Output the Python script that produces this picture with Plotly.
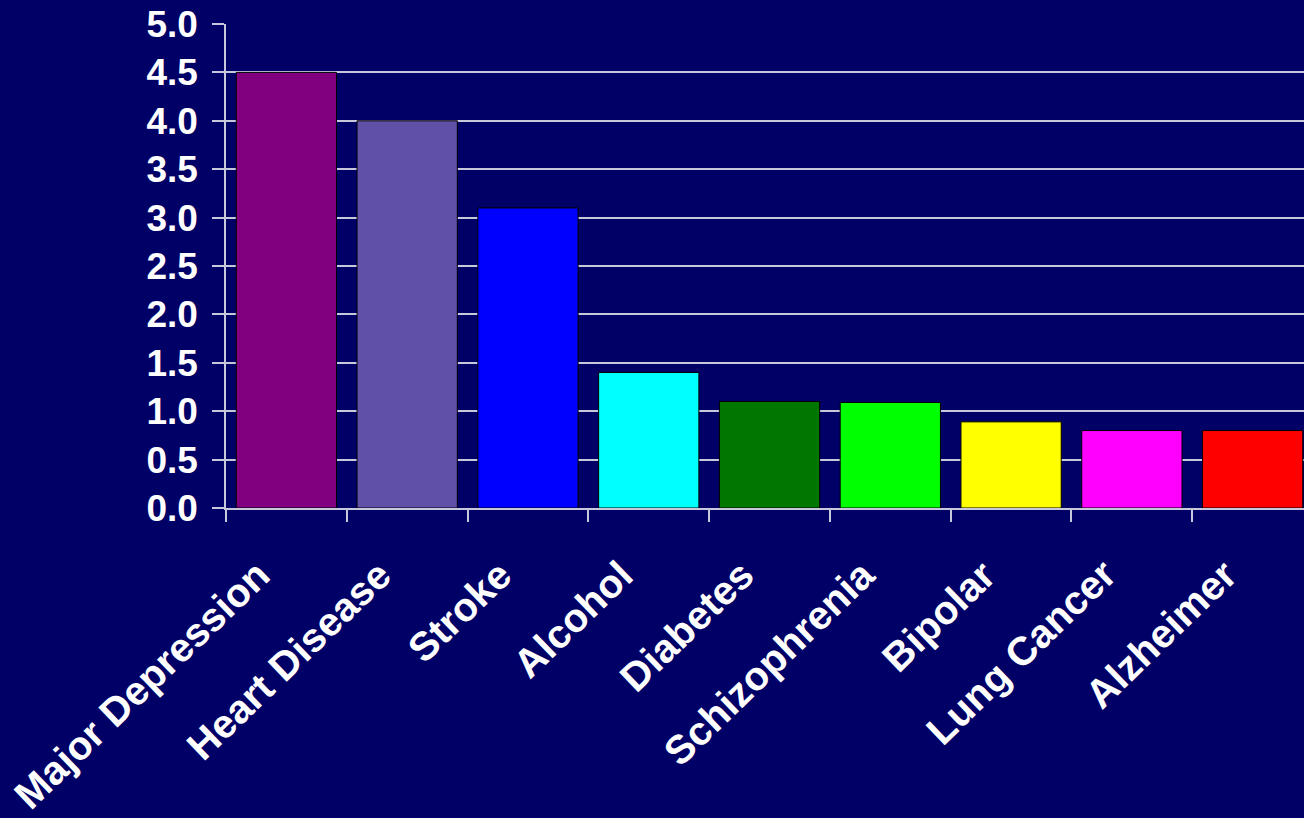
import plotly.graph_objects as go

categories = ["Major Depression", "Heart Disease", "Stroke", "Alcohol", "Diabetes",
              "Schizophrenia", "Bipolar", "Lung Cancer", "Alzheimer"]
values = [4.5, 4.0, 3.1, 1.4, 1.1, 1.09, 0.89, 0.8, 0.8]
colors = ["#800080", "#6050A8", "#0000FF", "#00FFFF", "#007700",
          "#00FF00", "#FFFF00", "#FF00FF", "#FF0000"]
y_ticks = [0, 0.5, 1.0, 1.5, 2.0, 2.5, 3.0, 3.5, 4.0, 4.5, 5.0]
y_tick_labels = ["0.0", "0.5", "1.0", "1.5", "2.0", "2.5", "3.0", "3.5", "4.0", "4.5", "5.0"]

bg = "#000066"
line_col = "#C8C8DC"
font_family = "Arial, 'Liberation Sans', sans-serif"

fig = go.Figure(go.Bar(
    x=categories, y=values,
    marker=dict(color=colors, line=dict(color="#000000", width=1)),
))

# Rotated category labels placed at each category position
for cat in categories:
    fig.add_annotation(
        x=cat, xref="x", y=0, yref="paper",
        text=cat, showarrow=False, textangle=-44,
        xanchor="right", yanchor="top",
        xshift=-5, yshift=-41,
        font=dict(family=font_family, size=40, color="white", weight="bold"),
    )

fig.update_layout(
    width=1304, height=818,
    paper_bgcolor=bg, plot_bgcolor=bg,
    margin=dict(l=226, r=0, t=24, b=310),
    bargap=0.17,
    showlegend=False,
    font=dict(family=font_family, color="white", size=36),
)
fig.update_xaxes(
    range=[-0.5, 8.425],
    showticklabels=False,
    ticks="outside", ticklen=12, tickcolor=line_col, tickwidth=1.5,
    tickson="boundaries",
    showline=True, linecolor=line_col, linewidth=1.5,
    showgrid=False, zeroline=False,
)
fig.update_yaxes(
    range=[0, 5.0],
    tickvals=y_ticks, ticktext=y_tick_labels,
    tickfont=dict(family=font_family, size=37, color="white", weight="bold"),
    ticks="outside", ticklen=12, tickcolor=line_col, tickwidth=1.5,
    ticklabelstandoff=7,
    showline=True, linecolor=line_col, linewidth=1.5,
    showgrid=True, gridcolor=line_col, gridwidth=1.5,
    zeroline=False,
)

fig.write_html("out.html")
